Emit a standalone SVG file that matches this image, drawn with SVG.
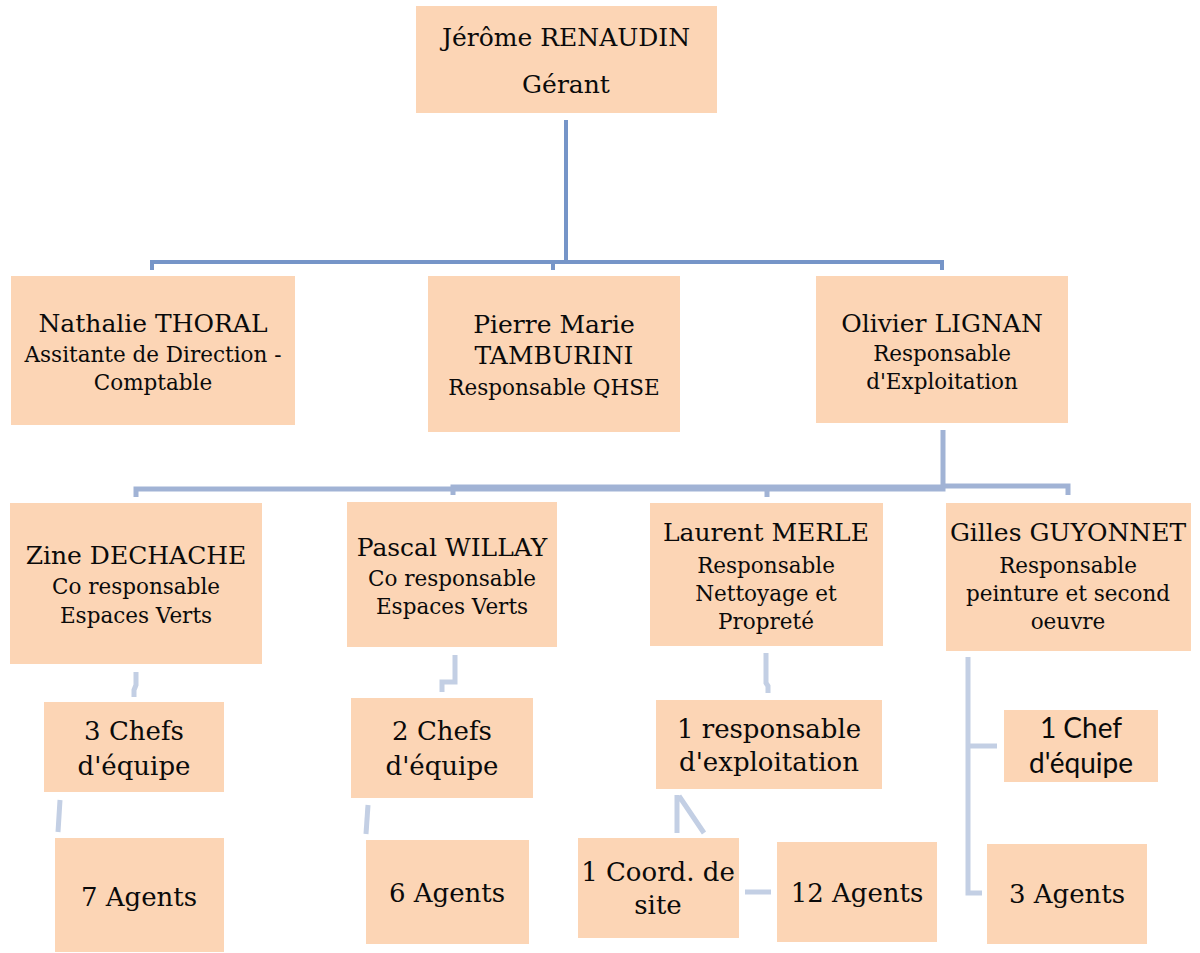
<svg xmlns="http://www.w3.org/2000/svg" width="1200" height="953" viewBox="0 0 1200 953">
<style>
.box{fill:#FCD5B5}
text{font-family:"DejaVu Serif","Liberation Serif",serif;fill:#0a0a0a;text-anchor:middle}
.n{font-size:25px}
.s{font-size:21.5px}
.b{font-size:26px}
.sans{font-family:Lato,"Liberation Sans",sans-serif;font-size:28px}
.c1{fill:none;stroke:#7695C8;stroke-width:4}
.c2{fill:none;stroke:#A1B3D5;stroke-width:5}
.c3{fill:none;stroke:#C3CFE4;stroke-width:5}
</style>
<rect width="1200" height="953" fill="#fff"/>
<g id="connectors">
<path class="c1" d="M566,120 V262 M152,270 V262 H942 V270 M553,262 V270"/>
<path class="c2" d="M943,430 V489 H136 V497 M453,495 V487 H943 M767,497 V490 M1068,495 V486 H943"/>
<path class="c3" d="M136,672 V685 L134,690 V697"/>
<path class="c3" d="M455,655 V682 H442 V692"/>
<path class="c3" d="M766,653 V683 L768,686 V693"/>
<path class="c3" d="M968,657 V893 H982 M968,746 H997"/>
<path class="c3" d="M60,800 L58,832"/>
<path class="c3" d="M368,805 L366,834"/>
<path class="c3" d="M677,795 V833 M679,796 L704,833"/>
<path class="c3" d="M745,892 H771"/>
</g>
<g id="n-renaudin"><rect class="box" x="416" y="6" width="301" height="107"/><text class="n" x="566" y="46">Jérôme RENAUDIN</text><text class="n" x="566" y="93">Gérant</text></g>
<g id="n-thoral"><rect class="box" x="11" y="276" width="284" height="149"/><text class="n" x="153" y="332">Nathalie THORAL</text><text class="s" x="153" y="362">Assitante de Direction -</text><text class="s" x="153" y="390">Comptable</text></g>
<g id="n-tamburini"><rect class="box" x="428" y="276" width="252" height="156"/><text class="n" x="554" y="333">Pierre Marie</text><text class="n" x="554" y="364">TAMBURINI</text><text class="s" x="554" y="395">Responsable QHSE</text></g>
<g id="n-lignan"><rect class="box" x="816" y="276" width="252" height="147"/><text class="n" x="942" y="332">Olivier LIGNAN</text><text class="s" x="942" y="361">Responsable</text><text class="s" x="942" y="389">d'Exploitation</text></g>
<g id="n-dechache"><rect class="box" x="10" y="503" width="252" height="161"/><text class="n" x="136" y="564">Zine DECHACHE</text><text class="s" x="136" y="594">Co responsable</text><text class="s" x="136" y="623">Espaces Verts</text></g>
<g id="n-willay"><rect class="box" x="347" y="502" width="210" height="145"/><text class="n" x="452" y="556">Pascal WILLAY</text><text class="s" x="452" y="586">Co responsable</text><text class="s" x="452" y="614">Espaces Verts</text></g>
<g id="n-merle"><rect class="box" x="650" y="503" width="233" height="143"/><text class="n" x="766" y="541">Laurent MERLE</text><text class="s" x="766" y="573">Responsable</text><text class="s" x="766" y="601">Nettoyage et</text><text class="s" x="766" y="629">Propreté</text></g>
<g id="n-guyonnet"><rect class="box" x="946" y="503" width="245" height="148"/><text class="n" x="1068" y="541">Gilles GUYONNET</text><text class="s" x="1068" y="573">Responsable</text><text class="s" x="1068" y="601">peinture et second</text><text class="s" x="1068" y="629">oeuvre</text></g>
<g id="n-chefs3"><rect class="box" x="44" y="702" width="180" height="90"/><text class="b" x="134" y="740">3 Chefs</text><text class="b" x="134" y="775">d'équipe</text></g>
<g id="n-chefs2"><rect class="box" x="351" y="698" width="182" height="100"/><text class="b" x="442" y="740">2 Chefs</text><text class="b" x="442" y="775">d'équipe</text></g>
<g id="n-respexp"><rect class="box" x="656" y="700" width="226" height="89"/><text class="b" x="769" y="738">1 responsable</text><text class="b" x="769" y="771">d'exploitation</text></g>
<g id="n-chef1"><rect class="box" x="1004" y="710" width="154" height="72"/><text class="sans" x="1081" y="738">1 Chef</text><text class="sans" x="1081" y="773">d'équipe</text></g>
<g id="n-agents7"><rect class="box" x="55" y="838" width="169" height="114"/><text class="b" x="139" y="906">7 Agents</text></g>
<g id="n-agents6"><rect class="box" x="366" y="840" width="163" height="104"/><text class="b" x="447" y="902">6 Agents</text></g>
<g id="n-coord"><rect class="box" x="578" y="838" width="161" height="100"/><text class="b" x="658" y="881">1 Coord. de</text><text class="b" x="658" y="914">site</text></g>
<g id="n-agents12"><rect class="box" x="777" y="842" width="160" height="100"/><text class="b" x="857" y="902">12 Agents</text></g>
<g id="n-agents3"><rect class="box" x="987" y="844" width="160" height="100"/><text class="b" x="1067" y="903">3 Agents</text></g>
</svg>
